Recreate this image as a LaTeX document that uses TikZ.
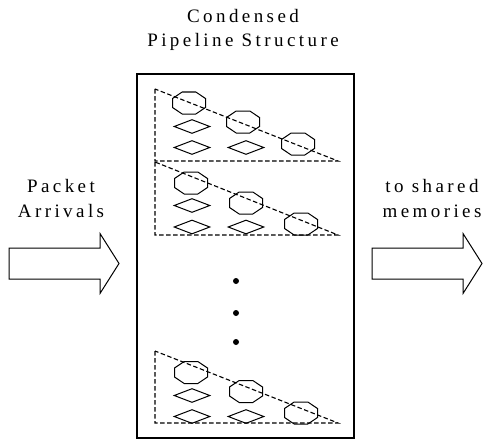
\documentclass[tikz,border=0pt]{standalone}
\usepackage{fontspec}
\setmainfont{Liberation Serif}
\newfontfamily\capfont[LetterSpace=18]{Liberation Serif}
\usetikzlibrary{shapes.geometric}

\begin{document}
\begin{tikzpicture}[x=1pt, y=-1pt, line width=1pt,
    octa/.pic={\draw (-16.5,-4.5) -- (-6.8,-11) -- (6.8,-11) -- (16.5,-4.5) -- (16.5,4.5) -- (6.8,11) -- (-6.8,11) -- (-16.5,4.5) -- cycle;},
    dia/.style={draw, diamond, aspect=2.6, minimum width=36pt, minimum height=14pt, inner sep=0pt},
    stage/.style={draw, line width=1.1pt, dash pattern=on 4.5pt off 2.5pt},
    lbl/.style={font=\capfont\fontsize{19}{24.5}\selectfont, align=center, inner sep=0pt},
    blockarrow/.pic={\draw (0,-15.5) -- (91,-15.5) -- (91,-30) -- (110,0) -- (91,30) -- (91,15.5) -- (0,15.5) -- cycle;}]
    \useasboundingbox[fill=white] (0,0) rectangle (486,441);
    
    \node[lbl, anchor=north] (title) at (243,8.5) {Condensed\\Pipeline Structure};
    \node[draw, line width=1.5pt, minimum width=217pt, minimum height=364pt, inner sep=0pt] (pipe) at (245.5,256) {};
    
    % first stage
    \draw[stage] (155,89) -- (155,161) -- (338,161) -- cycle;
    \pic (o11) at (189,103) {octa};
    \pic (o12) at (243,122) {octa};
    \pic (o13) at (298,144) {octa};
    \node[dia] (d11) at (192,126.5) {};
    \node[dia] (d12) at (192,147.5) {};
    \node[dia] (d13) at (246,147.5) {};
    
    % second stage
    \draw[stage] (155,162) -- (155,235) -- (338,235) -- cycle;
    \pic (o21) at (191,183) {octa};
    \pic (o22) at (246,203) {octa};
    \pic (o23) at (301,224) {octa};
    \node[dia] (d21) at (192,205.5) {};
    \node[dia] (d22) at (192,227) {};
    \node[dia] (d23) at (246,227) {};
    
    % dots
    \fill (236,281) circle (3pt);
    \fill (236,313) circle (3pt);
    \fill (236,342) circle (3pt);
    
    % last stage
    \draw[stage] (155,351) -- (155,423) -- (338,423) -- cycle;
    \pic (o31) at (191,372.5) {octa};
    \pic (o32) at (246,391.5) {octa};
    \pic (o33) at (301,413) {octa};
    \node[dia] (d31) at (192,395.5) {};
    \node[dia] (d32) at (192,416.5) {};
    \node[dia] (d33) at (246,416.5) {};
    
    % in and out
    \node[lbl, anchor=north] (arrivals) at (61,179) {Packet\\Arrivals};
    \node[lbl, anchor=north] (memories) at (432,179) {to shared\\memories};
    \pic (inarrow) at (9,263.5) {blockarrow};
    \pic (outarrow) at (372,263.5) {blockarrow};
\end{tikzpicture}
\end{document}
